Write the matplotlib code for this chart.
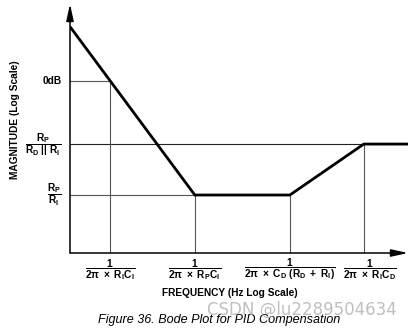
import matplotlib
matplotlib.use("Agg")
import matplotlib.pyplot as plt

# Asymptotic Bode magnitude of a PID compensator (log-log, schematic)
freq = [1, 3, 30, 400, 3000, 10000]
magnitude = [3, 1, 0.1, 0.1, 0.28, 0.28]

# Corner frequencies and their labels
corner_freqs = [3, 30, 400, 3000]
corner_labels = [
    r"$\dfrac{1}{2\pi\ \times\ R_I C_I}$",
    r"$\dfrac{1}{2\pi\ \times\ R_P C_I}$",
    r"$\dfrac{1}{2\pi\ \times\ C_D\ (R_D\ +\ R_I)}$",
    r"$\dfrac{1}{2\pi\ \times\ R_I C_D}$",
]

# Magnitude levels and their labels
level_0db = 1
level_high = 0.28
level_low = 0.1
level_labels = ["0dB", r"$\dfrac{R_P}{R_D\ ||\ R_I}$", r"$\dfrac{R_P}{R_I}$"]

plt.rcParams["mathtext.fontset"] = "custom"
for key in ("rm", "it", "bf", "sf"):
    plt.rcParams["mathtext." + key] = "Liberation Sans:bold"
plt.rcParams["mathtext.default"] = "rm"
plt.rcParams["font.family"] = ["Liberation Sans", "DejaVu Sans"]

W, H = 413, 329
fig = plt.figure(figsize=(W / 100, H / 100), dpi=100)
x0, x1, ytop, ybot = 70, 408, 4, 253
ax = fig.add_axes([x0 / W, 1 - ybot / H, (x1 - x0) / W, (ybot - ytop) / H])
ax.set_xscale("log")
ax.set_yscale("log")
ax.set_xlim(1, 10000)
ax.set_ylim(0.031, 4.74)
for s in ax.spines.values():
    s.set_visible(False)
ax.set_xticks([])
ax.set_yticks([])
ax.xaxis.set_minor_locator(matplotlib.ticker.NullLocator())
ax.yaxis.set_minor_locator(matplotlib.ticker.NullLocator())

grid_kw = dict(color="#555555", lw=0.8, zorder=1)
ymin = ax.get_ylim()[0]
# horizontal reference lines
ax.plot([freq[0], corner_freqs[0]], [level_0db, level_0db], **grid_kw)
ax.plot([freq[0], freq[-1]], [level_high, level_high], color="#222222", lw=0.8, zorder=1)
ax.plot([freq[0], corner_freqs[1]], [level_low, level_low], **grid_kw)
# vertical lines at each corner frequency
corner_tops = [level_0db, level_low, level_low, level_high]
for f, top in zip(corner_freqs, corner_tops):
    ax.plot([f, f], [ymin, top], **grid_kw)

# magnitude asymptote
ax.plot(freq, magnitude, color="black", lw=2.0, solid_capstyle="butt",
        solid_joinstyle="miter", zorder=3)

# axes with arrow heads
arrow = dict(arrowstyle="-|>,head_length=1.0,head_width=0.22", lw=1.1,
             color="black", mutation_scale=10, shrinkA=0, shrinkB=0)
ax.annotate("", xy=(1, 0), xytext=(0, 0), xycoords="axes fraction", arrowprops=arrow)
ax.annotate("", xy=(0, 1), xytext=(0, 0), xycoords="axes fraction", arrowprops=arrow)

# corner frequency labels (the last one nudged right to clear its neighbour)
label_shift = [0, 0, 0, 4]
for f, lab, dx in zip(corner_freqs, corner_labels, label_shift):
    ax.annotate(lab, xy=(f, 0), xycoords=("data", "axes fraction"),
                xytext=(dx, -3), textcoords="offset points",
                ha="center", va="top", fontsize=7.3)

# magnitude labels
for lv, lab in zip([level_0db, level_high, level_low], level_labels):
    ax.annotate(lab, xy=(0, lv), xycoords=("axes fraction", "data"),
                xytext=(-6, 0), textcoords="offset points",
                ha="right", va="center", fontsize=7.3,
                fontweight="bold")

fig.text(230 / W, 1 - 293 / H, "FREQUENCY (Hz Log Scale)", ha="center",
         va="center", fontsize=7.3, fontweight="bold")
fig.text(15 / W, 1 - 120 / H, "MAGNITUDE (Log Scale)", ha="center",
         va="center", rotation=90, fontsize=7.3, fontweight="bold")

fig.text(219 / W, 1 - 320 / H, "Figure 36. Bode Plot for PID Compensation",
         ha="center", va="center", fontsize=9.1, style="italic",
         family=["Liberation Sans Narrow", "Liberation Sans"])
fig.text(302 / W, 1 - 310 / H, "CSDN @lu2289504634", ha="center",
         va="center", fontsize=12, color="#b0b0b0", alpha=0.8,
         family=["DejaVu Sans"])

fig.savefig("out.png", dpi=100)
